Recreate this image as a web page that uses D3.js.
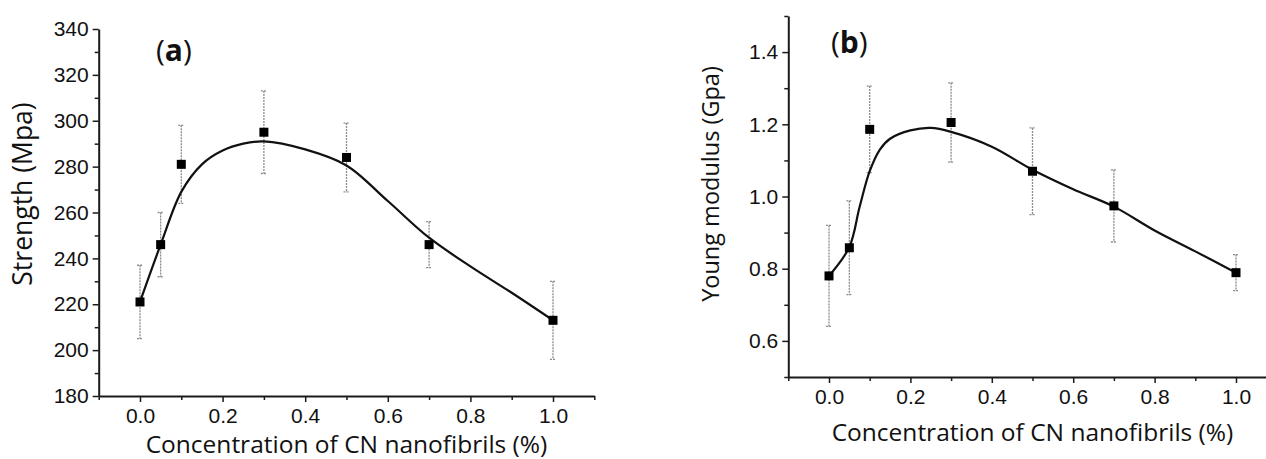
<!DOCTYPE html>
<html>
<head>
<meta charset="utf-8">
<script src="https://cdn.jsdelivr.net/npm/d3@7"></script>
<style>
    body { margin: 0; background: #fff; }
    svg { display: block; font-family: "Open Sans", "DejaVu Sans", sans-serif; }
    .domain { stroke: #1a1a1a; stroke-width: 2; }
    .tick line { stroke: #1a1a1a; stroke-width: 1.5; }
    .tick text { font-size: 21px; fill: #111; }
    .axisTitle { font-size: 24.5px; fill: #111; }
    .panelTitle { font-size: 30px; fill: #111; }
    .errorBar { stroke: #8c8c8c; stroke-width: 1.3; stroke-dasharray: 2,1; fill: none; }
    .fitLine { stroke: #111; stroke-width: 2.2; fill: none; }
    .marker { fill: #000; }
</style>
</head>
<body>
<div id="chart"></div>
<script>
'use strict';

/**** Data ****/

var concentrations = [0, 0.05, 0.1, 0.3, 0.5, 0.7, 1.0];

var strengthValues = [221, 246, 281, 295, 284, 246, 213];
var strengthErrors = [16, 14, 17, 18, 15, 10, 17];
var strengthFitX = [0, 0.05, 0.1, 0.15, 0.2, 0.25, 0.3, 0.4, 0.5, 0.6, 0.7, 0.8, 0.9, 1.0];
var strengthFitY = [221, 246, 269, 281, 287, 290, 291, 287.5, 280.5, 265, 249, 236.5, 225, 213];

var modulusValues = [0.78, 0.858, 1.186, 1.205, 1.07, 0.974, 0.789];
var modulusErrors = [0.14, 0.13, 0.12, 0.11, 0.12, 0.10, 0.05];
var modulusFitX = [0, 0.05, 0.075, 0.1, 0.125, 0.15, 0.2, 0.25, 0.3, 0.4, 0.5, 0.6, 0.7, 0.8, 0.9, 1.0];
var modulusFitY = [0.78, 0.86, 0.97, 1.07, 1.13, 1.16, 1.183, 1.19, 1.179, 1.138, 1.074, 1.02, 0.972, 0.906, 0.848, 0.789];

var xMajorTicks = [0, 0.2, 0.4, 0.6, 0.8, 1.0];
var xMinorTicks = [-0.1, 0.1, 0.3, 0.5, 0.7, 0.9, 1.1];
var strengthMajorTicks = [180, 200, 220, 240, 260, 280, 300, 320, 340];
var strengthMinorTicks = [190, 210, 230, 250, 270, 290, 310, 330];
var modulusMajorTicks = [0.6, 0.8, 1.0, 1.2, 1.4];
var modulusMinorTicks = [0.5, 0.7, 0.9, 1.1, 1.3, 1.5];

var xTitle = 'Concentration of CN nanofibrils (%)';

/**** Drawing ****/

var svg = d3.select('#chart')
    .append('svg')
        .attr('width', 1266)
        .attr('height', 459);

var drawPanel = function(p) {
    var x = d3.scaleLinear().domain([-0.1, 1.1]).range([p.x0, p.x1]);
    var y = d3.scaleLinear().domain(p.yDomain).range([p.y0, p.y1]);
    var g = svg.append('g');

    //Minor ticks first, then the labelled axes on top
    g.append('g')
        .attr('transform', 'translate(0,' + p.y0 + ')')
        .call(d3.axisBottom(x).tickValues(xMinorTicks).tickSize(4).tickSizeOuter(0).tickFormat(''))
        .select('.domain').remove();
    g.append('g')
        .attr('transform', 'translate(' + p.x0 + ',0)')
        .call(d3.axisLeft(y).tickValues(p.yMinor).tickSize(4).tickSizeOuter(0).tickFormat(''))
        .select('.domain').remove();

    g.append('g')
        .attr('transform', 'translate(0,' + p.y0 + ')')
        .call(d3.axisBottom(x).tickValues(xMajorTicks).tickSize(6).tickSizeOuter(0).tickPadding(6)
            .tickFormat(d3.format('.1f')));
    g.append('g')
        .attr('transform', 'translate(' + p.x0 + ',0)')
        .call(d3.axisLeft(y).tickValues(p.yMajor).tickSize(6).tickSizeOuter(0).tickPadding(4)
            .tickFormat(p.yFormat));

    //Axis titles
    g.append('text')
        .attr('class', 'axisTitle')
        .attr('x', x(0.5))
        .attr('y', p.xTitleY)
        .attr('text-anchor', 'middle')
        .text(xTitle);
    g.append('text')
        .attr('class', 'axisTitle')
        .style('font-size', p.yTitleSize + 'px')
        .attr('transform', 'translate(' + p.yTitleX + ',' + p.yTitleY + ') rotate(-90)')
        .attr('text-anchor', 'middle')
        .text(p.yTitle);

    //Panel letter
    var letter = g.append('text')
        .attr('class', 'panelTitle')
        .attr('x', p.letterX)
        .attr('y', p.letterY);
    letter.append('tspan').text('(');
    letter.append('tspan').attr('font-weight', 'bold').text(p.letter);
    letter.append('tspan').text(')');

    //Error bars
    var points = concentrations.map(function(c, i) {
        return { c: c, v: p.values[i], e: p.errors[i] };
    });
    g.append('g').selectAll('.errorBar')
        .data(points)
        .enter()
        .append('path')
        .attr('class', 'errorBar')
        .attr('d', function(d) {
            var cx = x(d.c), top = y(d.v + d.e), bottom = y(d.v - d.e);
            return 'M' + (cx - 3) + ',' + top + 'H' + (cx + 3) +
                'M' + cx + ',' + top + 'V' + bottom +
                'M' + (cx - 3) + ',' + bottom + 'H' + (cx + 3);
        });

    //Fitted curve
    var fit = p.fitX.map(function(c, i) { return [c, p.fitY[i]]; });
    g.append('path')
        .datum(fit)
        .attr('class', 'fitLine')
        .attr('d', d3.line()
            .x(function(d) { return x(d[0]); })
            .y(function(d) { return y(d[1]); })
            .curve(d3.curveCatmullRom.alpha(0.5)));

    //Square markers
    g.append('g').selectAll('.marker')
        .data(points)
        .enter()
        .append('rect')
        .attr('class', 'marker')
        .attr('x', function(d) { return x(d.c) - 4.5; })
        .attr('y', function(d) { return y(d.v) - 4.5; })
        .attr('width', 9)
        .attr('height', 9);
};

drawPanel({
    x0: 98.7, x1: 594.3, y0: 396, y1: 29,
    yDomain: [180, 340],
    yMajor: strengthMajorTicks, yMinor: strengthMinorTicks, yFormat: d3.format('d'),
    values: strengthValues, errors: strengthErrors,
    fitX: strengthFitX, fitY: strengthFitY,
    yTitle: 'Strength (Mpa)', yTitleX: 32, yTitleY: 194, yTitleSize: 26.5,
    xTitleY: 453,
    letter: 'a', letterX: 156, letterY: 61
});

drawPanel({
    x0: 788.3, x1: 1276.7, y0: 377, y1: 16,
    yDomain: [0.5, 1.5],
    yMajor: modulusMajorTicks, yMinor: modulusMinorTicks, yFormat: d3.format('.1f'),
    values: modulusValues, errors: modulusErrors,
    fitX: modulusFitX, fitY: modulusFitY,
    yTitle: 'Young modulus (Gpa)', yTitleX: 719, yTitleY: 184, yTitleSize: 23.5,
    xTitleY: 441,
    letter: 'b', letterX: 831, letterY: 53
});
</script>
</body>
</html>
